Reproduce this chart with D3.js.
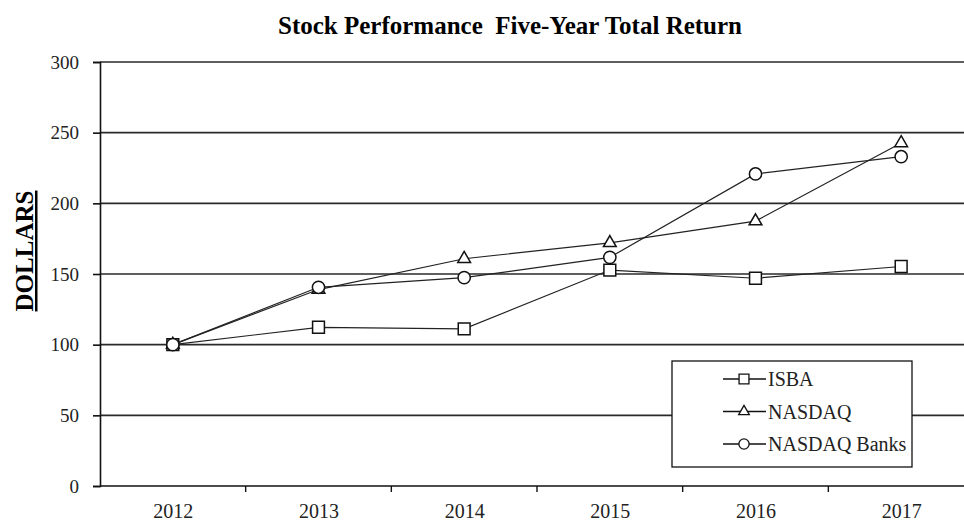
<!DOCTYPE html>
<html>
<head>
<meta charset="utf-8">
<script src="https://cdn.jsdelivr.net/npm/d3@7"></script>
<style>
  body { margin: 0; background: #fff; }
  svg { display: block; font-family: "Liberation Serif", "Times New Roman", serif; }
</style>
</head>
<body>
<svg id="canvas" width="964" height="523"></svg>
<script>
let years = ['2012', '2013', '2014', '2015', '2016', '2017']
let isba = [100, 112.3, 111.2, 152.8, 147, 155.3]
let nasdaq = [100, 139, 160.8, 172, 187.4, 242.7]
let nasdaqBanks = [100, 140.6, 147.4, 161.8, 220.8, 233]
let yTicks = [0, 50, 100, 150, 200, 250, 300]
let seriesNames = ['ISBA', 'NASDAQ', 'NASDAQ Banks']

let svg = d3.select('#canvas')

let plotLeft = 100, plotRight = 974, plotTop = 62, plotBottom = 486

let xBand = d3.scaleBand().domain(years).range([plotLeft, plotRight])
let x = d3.scalePoint().domain(years).range([plotLeft, plotRight]).padding(0.5)
let y = d3.scaleLinear().domain([0, 300]).range([plotBottom, plotTop])

let series = [
    { name: seriesNames[0], values: isba, shape: d3.symbolSquare, size: 140 },
    { name: seriesNames[1], values: nasdaq, shape: d3.symbolTriangle, size: 70 },
    { name: seriesNames[2], values: nasdaqBanks, shape: d3.symbolCircle, size: 118 }
]

// title
svg.append('text')
    .attr('x', 510)
    .attr('y', 34)
    .attr('text-anchor', 'middle')
    .style('font-size', '25px')
    .style('font-weight', 'bold')
    .style('white-space', 'pre')
    .text('Stock Performance  Five-Year Total Return')

// grid lines
svg.append('g')
    .selectAll('line')
    .data(yTicks.filter(d => d > 0))
    .enter()
    .append('line')
    .attr('x1', plotLeft)
    .attr('x2', plotRight)
    .attr('y1', d => y(d))
    .attr('y2', d => y(d))
    .attr('stroke', '#2a2a2a')
    .attr('stroke-width', 1.7)

// y axis
let yAxis = svg.append('g')
    .attr('transform', 'translate(' + plotLeft + ',0)')
    .call(d3.axisLeft(y).tickValues(yTicks).tickSize(7).tickPadding(14))
yAxis.select('.domain').attr('stroke', '#111').attr('stroke-width', 1.6)
yAxis.selectAll('.tick line').attr('stroke', '#111').attr('stroke-width', 1.6)
yAxis.selectAll('text')
    .style('font-size', '19px')
    .style('font-family', '"Liberation Serif", serif')
    .attr('fill', '#222')

// x axis
let xAxis = svg.append('g')
    .attr('transform', 'translate(0,' + plotBottom + ')')
    .call(d3.axisBottom(x).tickSize(0).tickPadding(18))
xAxis.select('.domain').remove()
xAxis.selectAll('text')
    .style('font-size', '20px')
    .style('font-family', '"Liberation Serif", serif')
    .attr('fill', '#222')

svg.append('line')
    .attr('x1', plotLeft).attr('x2', plotRight)
    .attr('y1', plotBottom).attr('y2', plotBottom)
    .attr('stroke', '#111')
    .attr('stroke-width', 1.6)

svg.append('g')
    .selectAll('line')
    .data(years.slice(1))
    .enter()
    .append('line')
    .attr('x1', d => xBand(d))
    .attr('x2', d => xBand(d))
    .attr('y1', plotBottom)
    .attr('y2', plotBottom + 6)
    .attr('stroke', '#111')
    .attr('stroke-width', 1.4)

// y axis title
svg.append('text')
    .attr('transform', 'translate(33,251) rotate(-90)')
    .attr('text-anchor', 'middle')
    .style('font-size', '25px')
    .style('font-weight', 'bold')
    .style('text-decoration', 'underline')
    .text('DOLLARS')

// lines
let line = d3.line()
    .x((d, i) => x(years[i]))
    .y(d => y(d))

series.forEach(s => {
    svg.append('path')
        .datum(s.values)
        .attr('d', line)
        .attr('fill', 'none')
        .attr('stroke', '#222')
        .attr('stroke-width', 1.2)
})

series.forEach(s => {
    svg.append('g')
        .selectAll('path')
        .data(s.values)
        .enter()
        .append('path')
        .attr('d', d3.symbol().type(s.shape).size(s.size))
        .attr('transform', (d, i) => 'translate(' + x(years[i]) + ',' + y(d) + ')')
        .attr('fill', '#fff')
        .attr('stroke', '#111')
        .attr('stroke-width', 1.5)
})

// legend
let legend = svg.append('g').attr('transform', 'translate(672,361)')
legend.append('rect')
    .attr('width', 240)
    .attr('height', 106)
    .attr('fill', '#fff')
    .attr('stroke', '#111')
    .attr('stroke-width', 1.3)

let rowY = d3.scalePoint().domain(seriesNames).range([18, 83])

let rows = legend.selectAll('.row')
    .data(series)
    .enter()
    .append('g')
    .attr('transform', d => 'translate(0,' + rowY(d.name) + ')')

rows.append('line')
    .attr('x1', 51).attr('x2', 94)
    .attr('stroke', '#111')
    .attr('stroke-width', 1.3)
rows.append('path')
    .attr('d', d => d3.symbol().type(d.shape).size(d.size * 0.7)())
    .attr('transform', 'translate(72,0)')
    .attr('fill', '#fff')
    .attr('stroke', '#111')
    .attr('stroke-width', 1.3)
rows.append('text')
    .attr('x', 96)
    .attr('dy', '0.35em')
    .style('font-size', '20px')
    .attr('fill', '#222')
    .text(d => d.name)
</script>
</body>
</html>
